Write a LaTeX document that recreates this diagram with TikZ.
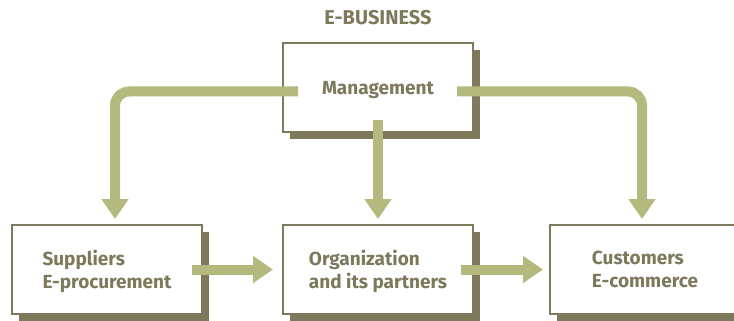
\documentclass[tikz,border=0pt]{standalone}
\usepackage{fontspec}
\setmainfont{Fira Sans}
\usetikzlibrary{positioning,arrows.meta,shadows}
\definecolor{olivedark}{HTML}{7D795A}
\definecolor{olivelight}{HTML}{B4B97D}
\begin{document}
\begin{tikzpicture}[x=1pt, y=-1pt,
        box/.style={draw=olivedark, line width=2pt, fill=white, minimum width=190pt, minimum height=89pt,
            align=left, text=olivedark, text depth=0pt, font=\bfseries\fontsize{19}{22.5}\selectfont,
            drop shadow={shadow xshift=7pt, shadow yshift=-7pt, fill=olivedark, opacity=1}},
        band/.style={line width=10pt, color=olivelight, -{Triangle[width=26pt, length=20pt]}}]
    \clip (0, 0) rectangle (734, 321);
    \node[box] (mgmt) at (378, 87.5) {Management};
    \node[box, below=91pt of mgmt] (org) {Organization\\and its partners};
    \node[box, left=79pt of org] (sup) {Suppliers\\E-procurement};
    \node[box, right=75pt of org] (cust) {Customers\\E-commerce};
    \node[above=17pt of mgmt, inner sep=0pt, text=olivedark, font=\bfseries\fontsize{20}{24}\selectfont] (title) {E-BUSINESS};
    \coordinate (mL) at (298, 91.5);
    \coordinate (mR) at (457, 91.5);
    \coordinate (mB) at (378, 120);
    \draw[band, rounded corners=14pt, shorten >=5pt] (mL) -| ([xshift=8pt]sup.north);
    \draw[band, rounded corners=14pt, shorten >=5pt] (mR) -| ([xshift=-3pt]cust.north);
    \draw[band, shorten >=5pt] (mB) -- (org.north);
    \draw[band, shorten >=9pt] ([xshift=-11pt]sup.east) -- (org.west);
    \draw[band, shorten >=6pt] ([xshift=-13pt]org.east) -- (cust.west);
\end{tikzpicture}
\end{document}
